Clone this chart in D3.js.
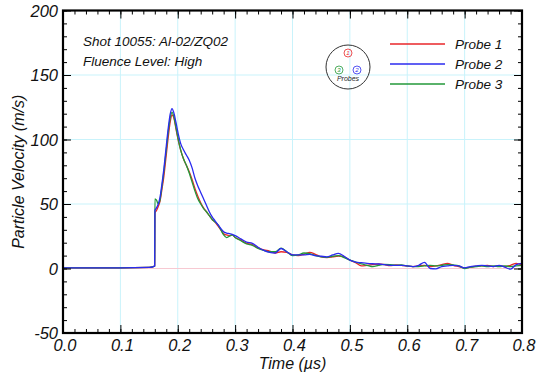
<!DOCTYPE html>
<html>
<head>
<meta charset="utf-8">
<script src="https://cdn.jsdelivr.net/npm/d3@7/dist/d3.min.js"></script>
<style>
  html, body { margin: 0; padding: 0; background: #fff; }
  svg text { font-family: "Liberation Sans", Arial, sans-serif; font-style: italic; }
</style>
</head>
<body>
<svg id="chart" width="536" height="373"></svg>
<script>
// Time samples (µs)
const time = [0, 0.05, 0.10, 0.15, 0.1575, 0.1598, 0.1602, 0.163, 0.166, 0.169, 0.172, 0.176, 0.180, 0.184, 0.187, 0.190, 0.193, 0.197,
  0.201, 0.205, 0.210, 0.215, 0.220, 0.225, 0.230, 0.235, 0.240, 0.245, 0.250, 0.255, 0.260, 0.265, 0.270, 0.275, 0.280, 0.285, 0.290, 0.295, 0.300,
  0.31, 0.32, 0.33, 0.34, 0.35, 0.36, 0.37, 0.38, 0.39, 0.40, 0.41, 0.42, 0.43, 0.44, 0.45, 0.46, 0.47, 0.48, 0.49, 0.50,
  0.51, 0.52, 0.53, 0.54, 0.55, 0.56, 0.57, 0.58, 0.59, 0.60, 0.61, 0.62, 0.63, 0.64, 0.65, 0.66, 0.67, 0.68, 0.69, 0.70,
  0.71, 0.72, 0.73, 0.74, 0.75, 0.76, 0.77, 0.78, 0.79, 0.80];

// Particle velocity (m/s) per probe
const probe1 = [0.5, 0.5, 0.5, 0.8, 1.5, 2, 43, 45, 48, 52, 60, 72, 88, 104, 114, 119, 117, 108,
  99, 92, 85, 80, 75, 69, 62, 56, 51, 47, 44, 41, 38, 36, 33, 30, 27, 26, 25.5, 26, 24,
  22, 19.5, 18.5, 16, 14.5, 13.5, 12, 13, 12.5, 10.5, 10, 11, 12.5, 11, 9, 8.5, 9, 9.7, 9, 6.5,
  4.5, 2, 2.5, 3, 3.5, 3, 2.2, 2.8, 2.5, 1.8, 1.5, 2, 2.5, 1.5, 2, 3, 4, 2.5, 1.5, 0.5,
  1, 1.8, 2, 2.5, 1.5, 2.2, 1.5, 2.5, 4, 2.5];

const probe2 = [0.5, 0.5, 0.5, 0.8, 1.5, 2, 45, 47, 50, 55, 64, 78, 95, 111, 120, 124, 121, 113,
  104, 97, 92, 88, 84, 78, 70, 64, 59, 54, 49, 44, 40, 37, 34, 31, 28.5, 27.5, 27, 26.5, 25.5,
  23, 20.5, 19.5, 16.5, 14, 12.5, 12, 15.5, 13, 10.5, 10.5, 10.5, 11, 10, 9.5, 9, 10.5, 11.8, 9.5, 6.5,
  5, 4.5, 4, 3.7, 3.5, 3, 2.5, 2.5, 2.5, 2, 1.5, 2.5, 4.8, 0, -0.3, 1.5, 2, 2.5, 2, 0.5,
  1.5, 2, 2.5, 2, 1.5, 2.5, 1, -0.5, 3, 4];

const probe3 = [0.5, 0.5, 0.5, 0.8, 1.5, 2, 54, 53, 50, 53, 62, 76, 92, 108, 117, 121, 118, 109,
  100, 92, 85, 80, 74, 67, 60, 54, 50, 46.5, 44, 41, 38, 36, 34, 30, 26, 24, 25, 26, 24,
  21.5, 19, 18, 15.5, 14, 13, 13, 15.8, 13, 10, 10.5, 12, 11.5, 10, 9, 8.7, 9.5, 10, 8.5, 6.5,
  5, 3.5, 2.5, 1.4, 2.5, 3.2, 3, 2.5, 2.7, 2, 1.5, 1.5, 2, 2.5, 2, 2.5, 3, 2.7, 2, 0,
  1, 1.5, 2, 1.5, 2, 1.5, 2, 1.5, 2, 2.5];

const seriesNames = ["Probe 1", "Probe 2", "Probe 3"];
const seriesColors = ["#e8262a", "#2b2bef", "#23993a"];
const xTicks = [0, 0.1, 0.2, 0.3, 0.4, 0.5, 0.6, 0.7, 0.8];
const yTicks = [-50, 0, 50, 100, 150, 200];
const annotations = ["Shot 10055: Al-02/ZQ02", "Fluence Level: High"];

const svg = d3.select("#chart");
const pLeft = 63, pRight = 522, pTop = 10.5, pBottom = 333;

const x = d3.scaleLinear().domain([0, 0.8]).range([pLeft, pRight]);
const y = d3.scaleLinear().domain([-50, 200]).range([pBottom, pTop]);

// grid lines
const grid = svg.append("g");
grid.selectAll(".gx").data(xTicks.slice(1, -1)).join("line")
  .attr("x1", d => x(d)).attr("x2", d => x(d)).attr("y1", pTop).attr("y2", pBottom)
  .attr("stroke", "#c9f3fb").attr("stroke-width", 1);
grid.selectAll(".gy").data(yTicks.filter(v => v !== 0 && v > -50 && v < 200)).join("line")
  .attr("x1", pLeft).attr("x2", pRight).attr("y1", d => y(d)).attr("y2", d => y(d))
  .attr("stroke", "#c9f3fb").attr("stroke-width", 1);
grid.append("line")
  .attr("x1", pLeft).attr("x2", pRight).attr("y1", y(0)).attr("y2", y(0))
  .attr("stroke", "#f7c9d2").attr("stroke-width", 1);

// data lines
const line = d3.line().x((d, i) => x(time[i])).y(d => y(d)).curve(d3.curveMonotoneX);
svg.append("defs").append("clipPath").attr("id", "plotclip")
  .append("rect").attr("x", pLeft).attr("y", pTop).attr("width", pRight - pLeft).attr("height", pBottom - pTop);
const plot = svg.append("g").attr("clip-path", "url(#plotclip)");
const allSeries = [probe1, probe2, probe3];
[0, 2, 1].forEach(idx => {
  plot.append("path").datum(allSeries[idx])
    .attr("fill", "none").attr("stroke", seriesColors[idx]).attr("stroke-width", 1.3)
    .attr("stroke-linejoin", "round").attr("d", line);
});

// axes with inward ticks on all four sides
const xMinor = d3.range(0, 0.8001, 0.02);
const yMinor = d3.range(-50, 200.001, 10);
function addAxis(axis, transform) {
  svg.append("g").attr("transform", transform).call(axis)
    .call(g => g.select(".domain").remove())
    .call(g => g.selectAll("line").attr("stroke", "#000").attr("stroke-width", 1));
}
addAxis(d3.axisBottom(x).tickValues(xMinor).tickSize(-4).tickFormat(""), `translate(0,${pBottom})`);
addAxis(d3.axisBottom(x).tickValues(xTicks).tickSize(-8).tickFormat(""), `translate(0,${pBottom})`);
addAxis(d3.axisTop(x).tickValues(xMinor).tickSize(-4).tickFormat(""), `translate(0,${pTop})`);
addAxis(d3.axisTop(x).tickValues(xTicks).tickSize(-8).tickFormat(""), `translate(0,${pTop})`);
addAxis(d3.axisLeft(y).tickValues(yMinor).tickSize(-4).tickFormat(""), `translate(${pLeft},0)`);
addAxis(d3.axisLeft(y).tickValues(yTicks).tickSize(-8).tickFormat(""), `translate(${pLeft},0)`);
addAxis(d3.axisRight(y).tickValues(yMinor).tickSize(-4).tickFormat(""), `translate(${pRight},0)`);
addAxis(d3.axisRight(y).tickValues(yTicks).tickSize(-8).tickFormat(""), `translate(${pRight},0)`);

// frame
svg.append("rect").attr("x", pLeft).attr("y", pTop).attr("width", pRight - pLeft).attr("height", pBottom - pTop)
  .attr("fill", "none").attr("stroke", "#000").attr("stroke-width", 2.2);

// tick labels
svg.append("g").selectAll("text").data(xTicks).join("text")
  .attr("x", d => x(d) + 2).attr("y", 351).attr("text-anchor", "middle")
  .attr("font-size", 16.5).attr("fill", "#111").text(d => d3.format(".1f")(d));
svg.append("g").selectAll("text").data(yTicks).join("text")
  .attr("x", pLeft - 5).attr("y", d => y(d) + 6).attr("text-anchor", "end")
  .attr("font-size", 16.5).attr("fill", "#111").text(d => d);

// axis titles
svg.append("text").attr("x", (pLeft + pRight) / 2).attr("y", 369).attr("text-anchor", "middle")
  .attr("font-size", 16).attr("fill", "#111").text("Time (µs)");
svg.append("text").attr("transform", `translate(24,${(pTop + pBottom) / 2}) rotate(-90)`)
  .attr("text-anchor", "middle").attr("font-size", 16).attr("fill", "#111").text("Particle Velocity (m/s)");

// shot annotation
svg.append("g").selectAll("text").data(annotations).join("text")
  .attr("x", 83).attr("y", (d, i) => 46 + i * 20).attr("font-size", 13.5).attr("fill", "#111").text(d => d);

// probe layout glyph
const glyph = svg.append("g").attr("transform", "translate(348,67)");
glyph.append("circle").attr("r", 22).attr("fill", "none").attr("stroke", "#333").attr("stroke-width", 1);
const probePos = [[0, -14], [9, 3], [-9, 3]];
const probeDigits = ["1", "2", "3"];
probePos.forEach((p, i) => {
  glyph.append("circle").attr("cx", p[0]).attr("cy", p[1]).attr("r", 4)
    .attr("fill", "none").attr("stroke", seriesColors[i]).attr("stroke-width", 0.8);
  glyph.append("text").attr("x", p[0]).attr("y", p[1] + 2.3).attr("text-anchor", "middle")
    .attr("font-size", 6).attr("fill", seriesColors[i]).text(probeDigits[i]);
});
glyph.append("text").attr("x", 0).attr("y", 14).attr("text-anchor", "middle")
  .attr("font-size", 7).attr("fill", "#222").text("Probes");

// legend
const legend = svg.append("g");
seriesNames.forEach((name, i) => {
  const ly = 44 + i * 20;
  legend.append("line").attr("x1", 390).attr("x2", 445).attr("y1", ly).attr("y2", ly)
    .attr("stroke", seriesColors[i]).attr("stroke-width", 1.3);
  legend.append("text").attr("x", 455).attr("y", ly + 5).attr("font-size", 13.5).attr("fill", "#111").text(name);
});
</script>
</body>
</html>
